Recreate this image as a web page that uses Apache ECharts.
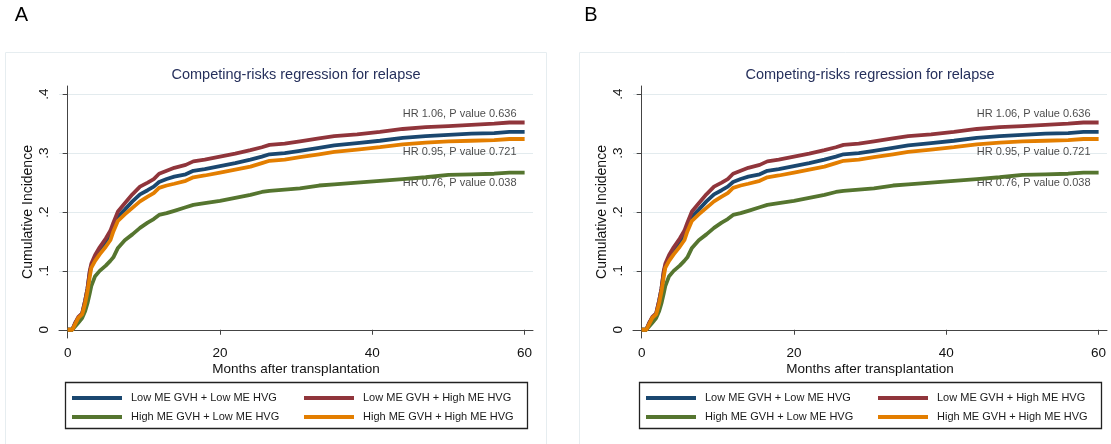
<!DOCTYPE html>
<html>
<head>
<meta charset="utf-8">
<script src="https://cdn.jsdelivr.net/npm/echarts@6/dist/echarts.min.js"></script>
<style>
  body { margin: 0; background: #fff; overflow: hidden; }
  .panel { position: absolute; top: 0; height: 444px; }
  #panelA { left: 0; width: 560px; }
  #panelB { left: 574px; width: 537px; }
</style>
</head>
<body>
<div id="panelA" class="panel"></div>
<div id="panelB" class="panel"></div>
<script>
const FONT = '"Liberation Sans", Arial, sans-serif';

// months after transplantation (shared time grid)
const months = [0, 0.6, 1.0, 1.4, 1.9, 2.3, 2.6, 2.9, 3.1, 3.6,
  4.2, 5.0, 5.6, 6.0, 6.6, 7.5, 8.5, 9.5, 10.5, 11.3,
  12, 13, 14, 15.5, 16.5, 18, 20, 22, 24, 25.5,
  26.5, 28.5, 30.5, 33, 35, 38, 41, 44, 47, 50,
  53, 56, 58, 60];

// cumulative incidence per group
const ciLowLow = [0, 0, 0.012, 0.02, 0.027, 0.05, 0.07, 0.098, 0.108, 0.122,
  0.135, 0.15, 0.163, 0.177, 0.192, 0.204, 0.218, 0.23, 0.237, 0.243,
  0.251, 0.256, 0.26, 0.264, 0.27, 0.273, 0.278, 0.283, 0.289, 0.294,
  0.298, 0.300, 0.304, 0.309, 0.313, 0.317, 0.321, 0.326, 0.329, 0.331,
  0.333, 0.334, 0.336, 0.336];
const ciLowHigh = [0, 0, 0.012, 0.022, 0.028, 0.05, 0.07, 0.1, 0.112, 0.127,
  0.140, 0.155, 0.168, 0.182, 0.201, 0.215, 0.23, 0.243, 0.250, 0.256,
  0.265, 0.27, 0.275, 0.28, 0.286, 0.289, 0.294, 0.299, 0.305, 0.310,
  0.314, 0.316, 0.320, 0.325, 0.329, 0.332, 0.336, 0.341, 0.344, 0.346,
  0.348, 0.350, 0.352, 0.352];
const ciHighLow = [0, 0, 0.006, 0.012, 0.02, 0.032, 0.045, 0.062, 0.074, 0.091,
  0.1, 0.109, 0.117, 0.123, 0.139, 0.152, 0.162, 0.173, 0.182, 0.188,
  0.195, 0.198, 0.202, 0.208, 0.212, 0.215, 0.219, 0.224, 0.229, 0.234,
  0.236, 0.238, 0.240, 0.245, 0.247, 0.250, 0.253, 0.256, 0.259, 0.263,
  0.264, 0.265, 0.267, 0.267];
const ciHighHigh = [0, 0, 0.01, 0.02, 0.026, 0.045, 0.065, 0.09, 0.105, 0.117,
  0.128, 0.141, 0.152, 0.167, 0.185, 0.196, 0.207, 0.218, 0.226, 0.232,
  0.241, 0.245, 0.248, 0.253, 0.259, 0.262, 0.267, 0.272, 0.277, 0.283,
  0.287, 0.289, 0.293, 0.298, 0.302, 0.306, 0.310, 0.315, 0.318, 0.320,
  0.321, 0.322, 0.324, 0.324];

const groupNames = ['Low ME GVH + Low ME HVG', 'Low ME GVH + High ME HVG',
  'High ME GVH + Low ME HVG', 'High ME GVH + High ME HVG'];
const groupColors = ['#1a476f', '#90353b', '#55752f', '#e37e00'];

const xTicks = [0, 20, 40, 60];
const yTicks = [0, 0.1, 0.2, 0.3, 0.4];

// hazard ratio notes
const hrTexts = ['HR 1.06, P value 0.636', 'HR 0.95, P value 0.721', 'HR 0.76, P value 0.038'];
const hrX = [59, 59, 59];
const hrY = [0.367, 0.302, 0.249];

function buildOption(panelLabel, labelX) {
  const curves = [ciLowLow, ciLowHigh, ciHighLow, ciHighHigh];
  const lineSeries = curves.map((vals, i) => ({
    name: groupNames[i],
    type: 'line',
    data: months.map((m, j) => [m, vals[j]]),
    symbol: 'none',
    lineStyle: { width: 3.8, color: groupColors[i] },
    itemStyle: { color: groupColors[i] },
    silent: true
  }));
  const legendBase = {
    orient: 'vertical',
    top: 386,
    itemWidth: 50,
    itemHeight: 4,
    itemGap: 5,
    icon: 'rect',
    selectedMode: false,
    textStyle: { fontSize: 11, color: '#1a1a1a', lineHeight: 14, fontFamily: FONT, padding: [0, 0, 0, 4] }
  };
  return {
    animation: false,
    textStyle: { fontFamily: FONT },
    grid: { left: 59, top: 86, width: 474, height: 252 },
    graphic: [
      // panel frame
      { type: 'rect', shape: { x: 5.5, y: 52.5, width: 541, height: 420 },
        style: { fill: 'none', stroke: '#e6edf0', lineWidth: 1 }, silent: true },
      // legend box
      { type: 'rect', shape: { x: 65.5, y: 382.5, width: 462, height: 46 },
        style: { fill: 'none', stroke: '#222', lineWidth: 1.3 }, silent: true },
      { type: 'text', x: labelX, y: 15.5,
        style: { text: panelLabel, fontSize: 20, fontFamily: FONT, fill: '#000', align: 'center', verticalAlign: 'middle' } },
      { type: 'text', x: 296, y: 75,
        style: { text: 'Competing-risks regression for relapse', fontSize: 14.5, fontFamily: FONT,
          fill: '#26305c', align: 'center', verticalAlign: 'middle' } }
    ],
    legend: [
      Object.assign({}, legendBase, { left: 67, data: [groupNames[0], groupNames[2]] }),
      Object.assign({}, legendBase, { left: 299, data: [groupNames[1], groupNames[3]] })
    ],
    xAxis: {
      type: 'value',
      min: -1.14,
      max: 61.1,
      name: 'Months after transplantation',
      nameLocation: 'middle',
      nameGap: 24,
      nameMoveOverlap: false,
      nameTextStyle: { fontSize: 13.5, color: '#111' },
      axisLine: { show: true, lineStyle: { color: '#444', width: 1 } },
      axisTick: { show: true, length: 5, customValues: xTicks, lineStyle: { color: '#444' } },
      axisLabel: { customValues: xTicks, margin: 8, fontSize: 13.5, color: '#111' },
      splitLine: { show: false }
    },
    yAxis: {
      type: 'value',
      min: -0.014,
      max: 0.414,
      name: 'Cumulative Incidence',
      nameLocation: 'middle',
      nameGap: 24,
      nameMoveOverlap: false,
      nameTextStyle: { fontSize: 14, color: '#111' },
      axisLine: { show: true, lineStyle: { color: '#444', width: 1 } },
      axisTick: { show: true, length: 5, customValues: yTicks, lineStyle: { color: '#444' } },
      axisLabel: {
        customValues: yTicks, rotate: 90, margin: 8, fontSize: 13.5, color: '#111',
        formatter: v => v === 0 ? '0' : String(+v.toFixed(1)).replace(/^0/, '')
      },
      splitLine: { show: true, lineStyle: { color: '#e3ebee', width: 1 } }
    },
    series: lineSeries.concat([{
      type: 'scatter',
      data: hrX.map((x, i) => [x, hrY[i], hrTexts[i]]),
      symbolSize: 1,
      itemStyle: { color: 'rgba(0,0,0,0)' },
      silent: true,
      label: { show: true, position: 'left', distance: 0, fontSize: 11, color: '#1a1a1a',
        formatter: p => p.value[2] }
    }])
  };
}

const chartA = echarts.init(document.getElementById('panelA'));
chartA.setOption(buildOption('A', 21.5));
const chartB = echarts.init(document.getElementById('panelB'));
chartB.setOption(buildOption('B', 17));
</script>
</body>
</html>
